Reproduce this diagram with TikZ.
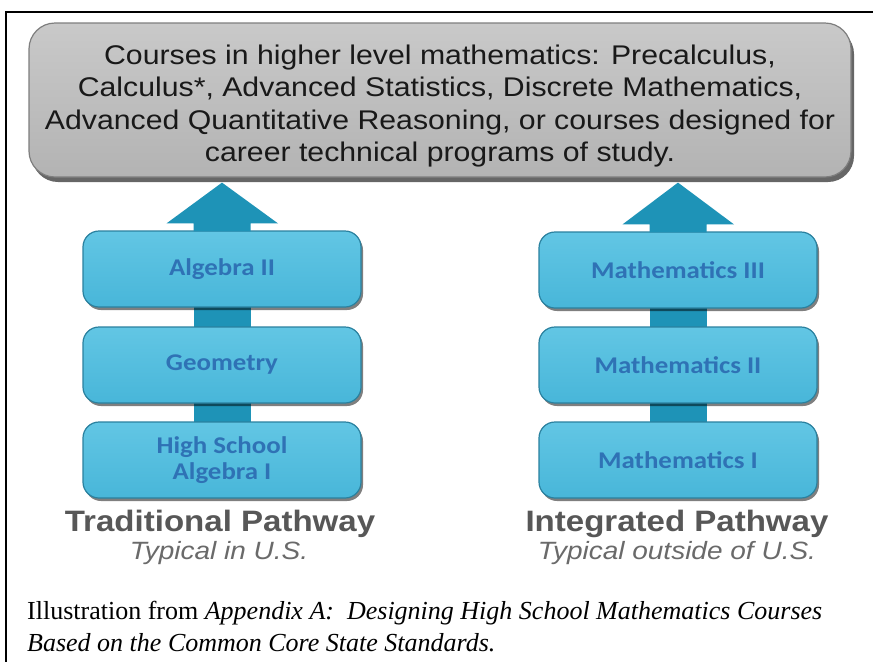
\documentclass[tikz,border=0pt]{standalone}
\usepackage{fontspec}
\setmainfont{Liberation Serif}
\newfontfamily\arialf[FakeStretch=1.12]{Liberation Sans}
\newfontfamily\calib[FakeStretch=1.12]{Carlito}
\usetikzlibrary{shadows,calc,backgrounds}
\definecolor{arrowblue}{HTML}{1E93B7}
\definecolor{boxblue}{HTML}{48B6D9}
\definecolor{boxtop}{HTML}{62C6E4}
\definecolor{boxedge}{HTML}{2A819F}
\definecolor{labelblue}{HTML}{2F72B5}
\definecolor{graytop}{HTML}{C9C9C9}
\definecolor{graybot}{HTML}{B3B3B3}
\definecolor{grayedge}{HTML}{7E7E7E}
\definecolor{pathgray}{HTML}{575757}
\definecolor{typgray}{HTML}{6A6A6A}
\tikzset{
  x=1pt, y=-1pt,
  coursebox/.style={draw=boxedge, line width=1.2pt, rounded corners=16pt,
    top color=boxtop, bottom color=boxblue, minimum width=278pt, minimum height=76pt,
    drop shadow={shadow xshift=2pt, shadow yshift=-3pt, fill=black, opacity=.5},
    font=\calib\bfseries\fontsize{24}{26}\selectfont, text=labelblue, align=center},
  topbox/.style={draw=grayedge, line width=1.2pt, rounded corners=26pt,
    top color=graytop, bottom color=graybot, minimum width=822pt, minimum height=154pt,
    drop shadow={shadow xshift=3pt, shadow yshift=-5pt, fill=black, opacity=.6}},
  toptext/.style={font=\arialf\fontsize{27}{32.5}\selectfont, text=black!90, align=center},
  pathtitle/.style={font=\arialf\bfseries\fontsize{29.5}{34}\selectfont, text=pathgray},
  pathsub/.style={font=\arialf\itshape\fontsize{25}{28}\selectfont, text=typgray},
  shaft/.style={line width=57pt, draw=arrowblue},
}
\begin{document}
\begin{tikzpicture}
\useasboundingbox (0,0) rectangle (873,662);
\begin{pgfonlayer}{background}
\fill[white] (0,0) rectangle (873,662);
\end{pgfonlayer}
% frame
\draw[line width=2pt] (873,12) coordinate (fr1) -- (6,12) coordinate (fr2) -- (6,662) coordinate (fr3);
% top box
\node[topbox] (top) at (440,100) {};
\node[toptext] (toptxt) at (440,106) {Courses in higher level mathematics: Precalculus,\\Calculus*, Advanced Statistics, Discrete Mathematics,\\Advanced Quantitative Reasoning, or courses designed for\\career technical programs of study.};
% left column
\node[coursebox] (a1) at (222,269) {Algebra II};
\node[coursebox] (a2) at (222,365) {Geometry};
\node[coursebox] (a3) at (222,460) {High School\\Algebra I};
% right column
\node[coursebox] (b1) at (678,270) {Mathematics III};
\node[coursebox] (b2) at (678,365) {Mathematics II};
\node[coursebox] (b3) at (678,460) {Mathematics I};
% shafts between boxes
\begin{pgfonlayer}{background}
\draw[shaft] (a3.center) -- (a2.center);
\draw[shaft] (a2.center) -- (a1.center);
\draw[shaft] (b3.center) -- (b2.center);
\draw[shaft] (b2.center) -- (b1.center);
\end{pgfonlayer}
% big arrows
\fill[arrowblue] ($(a1.north)+(-28.5,1)$) -- ++(0,-8) -- ++(-27,0) -- ($(a1.north |- top.south)+(0,5)$) -- ($(a1.north)+(56,-7)$) -- ++(-27.5,0) -- ++(0,8) -- cycle;
\fill[arrowblue] ($(b1.north)+(-28.5,1)$) -- ++(0,-8) -- ++(-27,0) -- ($(b1.north |- top.south)+(0,5)$) -- ($(b1.north)+(56,-7)$) -- ++(-27.5,0) -- ++(0,8) -- cycle;
% labels
\node[pathtitle] (lt) at (220,524) {Traditional Pathway};
\node[pathsub] (ls) at (219,553) {Typical in U.S.};
\node[pathtitle] (rt) at (677,524) {Integrated Pathway};
\node[pathsub] (rs) at (677,553) {Typical outside of U.S.};
% caption
\node[anchor=west, align=left, inner sep=0pt, font=\fontsize{26}{32}\selectfont] (cap) at (27,627) {Illustration from \textit{Appendix A:\ \ Designing High School Mathematics Courses}\\\textit{Based on the Common Core State Standards.}};
\end{tikzpicture}
\end{document}
